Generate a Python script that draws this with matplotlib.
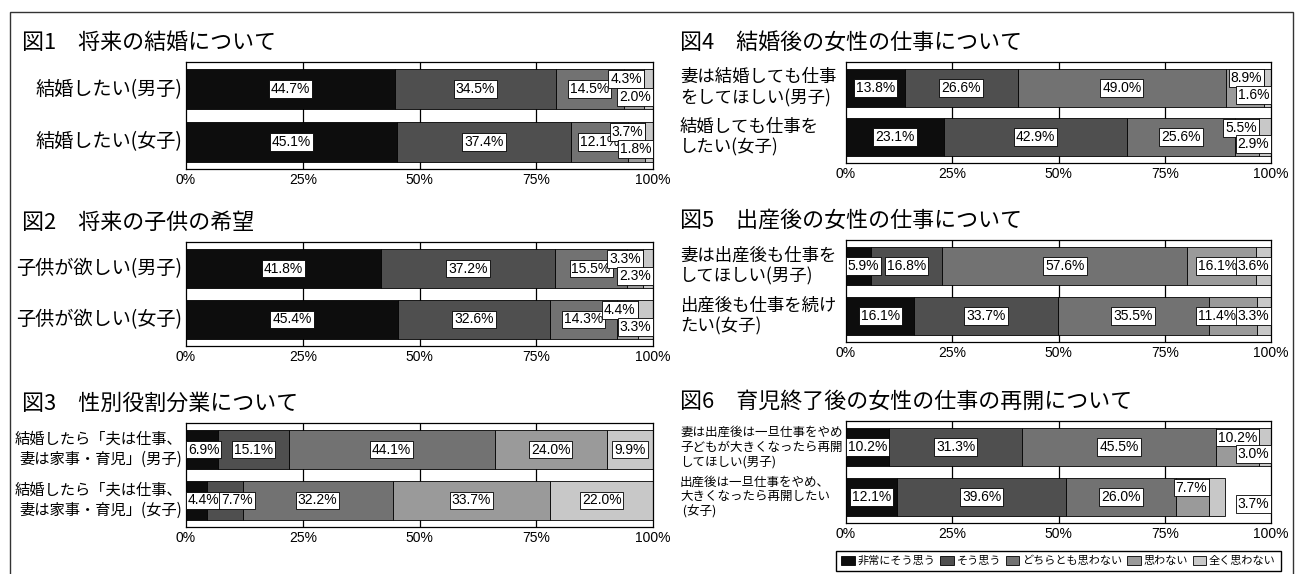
import matplotlib
matplotlib.use('Agg')
import matplotlib.pyplot as plt
from matplotlib.patches import Patch, Rectangle
from matplotlib.transforms import blended_transform_factory

plt.rcParams['font.family'] = ['Noto Sans CJK JP', 'DejaVu Sans']

W, H = 1296, 574

categories = ['非常にそう思う', 'そう思う', 'どちらとも思わない', '思わない', '全く思わない']
colors = ['#0d0d0d', '#4f4f4f', '#727272', '#9a9a9a', '#c8c8c8']
ticks = [0, 25, 50, 75, 100]
tick_labels = ['0%', '25%', '50%', '75%', '100%']

titles = ['図1　将来の結婚について', '図2　将来の子供の希望', '図3　性別役割分業について',
          '図4　結婚後の女性の仕事について', '図5　出産後の女性の仕事について', '図6　育児終了後の女性の仕事の再開について']

labels1 = ['結婚したい(男子)', '結婚したい(女子)']
labels2 = ['子供が欲しい(男子)', '子供が欲しい(女子)']
labels3 = ['結婚したら「夫は仕事、\n妻は家事・育児」(男子)', '結婚したら「夫は仕事、\n妻は家事・育児」(女子)']
labels4 = ['妻は結婚しても仕事\nをしてほしい(男子)', '結婚しても仕事を\nしたい(女子)']
labels5 = ['妻は出産後も仕事を\nしてほしい(男子)', '出産後も仕事を続け\nたい(女子)']
labels6 = ['妻は出産後は一旦仕事をやめ\n子どもが大きくなったら再開\nしてほしい(男子)', '出産後は一旦仕事をやめ、\n大きくなったら再開したい\n (女子)']

values1 = [[44.7, 34.5, 14.5, 4.3, 2.0], [45.1, 37.4, 12.1, 3.7, 1.8]]
values2 = [[41.8, 37.2, 15.5, 3.3, 2.3], [45.4, 32.6, 14.3, 4.4, 3.3]]
values3 = [[6.9, 15.1, 44.1, 24.0, 9.9], [4.4, 7.7, 32.2, 33.7, 22.0]]
values4 = [[13.8, 26.6, 49.0, 8.9, 1.6], [23.1, 42.9, 25.6, 5.5, 2.9]]
values5 = [[5.9, 16.8, 57.6, 16.1, 3.6], [16.1, 33.7, 35.5, 11.4, 3.3]]
values6 = [[10.2, 31.3, 45.5, 10.2, 3.0], [12.1, 39.6, 26.0, 7.7, 3.7]]

# panel layout in pixels: (x0, y0, x1, y1), label side, label size, value label style
panels = [
    (titles[0], labels1, values1, (186, 62, 653, 169), 'left', 13.8, 'stack'),
    (titles[1], labels2, values2, (186, 242, 653, 346), 'left', 13.8, 'stack'),
    (titles[2], labels3, values3, (186, 423, 653, 527), 'left', 11.0, 'inline'),
    (titles[3], labels4, values4, (846, 62, 1271, 163), 'right', 12.5, 'stack'),
    (titles[4], labels5, values5, (846, 240, 1271, 342), 'right', 12.5, 'inline'),
    (titles[5], labels6, values6, (846, 421, 1271, 523), 'right', 9.0, 'stack'),
]

fig = plt.figure(figsize=(W / 100, H / 100), dpi=100)
fig.patches.append(Rectangle((10 / W, -0.05), 1283 / W, 1.05 - 12 / H, transform=fig.transFigure,
                             fill=False, edgecolor='#333333', linewidth=1.0))

NUM_FONT = ['Liberation Sans Narrow', 'Liberation Sans', 'DejaVu Sans']
bbox_kw = dict(boxstyle='square,pad=0.14', facecolor='white', edgecolor='black', linewidth=0.6)


def half_width(s, axw):
    return (6.6 * len(s) + 5) / 2 / axw * 100


for title, ylabels, vals, (x0, y0, x1, y1), side, lsize, mode in panels:
    ax = fig.add_axes([x0 / W, 1 - y1 / H, (x1 - x0) / W, (y1 - y0) / H])
    axw = x1 - x0
    for r, row in enumerate(vals):
        left = 0
        for k, v in enumerate(row):
            ax.barh(r, v, left=left, height=0.76, color=colors[k], edgecolor='black', linewidth=0.6, zorder=2)
            left += v
        # value labels
        cum = [sum(row[:k]) for k in range(len(row) + 1)]
        texts = [f'{v:.1f}%' for v in row]
        hw = [half_width(t, axw) for t in texts]
        if mode == 'stack':
            xs = [(cum[k] + cum[k + 1]) / 2 for k in range(3)]
            for k in range(3):
                ax.text(xs[k], r, texts[k], ha='center', va='center', fontsize=10, family=NUM_FONT, bbox=bbox_kw, zorder=4)
            ax.text(cum[4] - 0.4, r - 0.19, texts[3], ha='right', va='center', fontsize=10, family=NUM_FONT, bbox=bbox_kw, zorder=4)
            ax.text(99.6, r + 0.14, texts[4], ha='right', va='center', fontsize=10, family=NUM_FONT, bbox=bbox_kw, zorder=4)
        else:
            xs = []
            prev = 0
            for k in range(5):
                x = max((cum[k] + cum[k + 1]) / 2, prev + 0.4 + hw[k])
                xs.append(x)
                prev = x + hw[k]
            if xs[4] + hw[4] > 99.6:
                xs[4] = 99.6 - hw[4]
                for k in range(3, -1, -1):
                    xs[k] = min(xs[k], xs[k + 1] - hw[k + 1] - 0.4 - hw[k])
            for k in range(5):
                ax.text(xs[k], r, texts[k], ha='center', va='center', fontsize=10, family=NUM_FONT, bbox=bbox_kw, zorder=4)
    ax.set_xlim(0, 100)
    ax.set_ylim(1.52, -0.52)
    ax.set_yticks([])
    ax.set_xticks(ticks)
    ax.set_xticklabels(tick_labels, fontsize=10, family=NUM_FONT)
    ax.tick_params(axis='x', length=0, pad=3)
    for t in ticks[1:-1]:
        ax.axvline(t, color='black', linewidth=0.9, zorder=1)
    for s in ax.spines.values():
        s.set_linewidth(0.9)
    # row labels
    tr = blended_transform_factory(fig.transFigure, ax.transData)
    if side == 'left':
        for r, lab in enumerate(ylabels):
            ax.text(182 / W, r, lab, transform=tr, ha='right', va='center', fontsize=lsize, linespacing=1.2)
        tx = 22
    else:
        for r, lab in enumerate(ylabels):
            ax.text(680 / W, r, lab, transform=tr, ha='left', va='center', fontsize=lsize, linespacing=1.2)
        tx = 680
    fig.text(tx / W, 1 - (y0 - 19) / H, title, ha='left', va='center', fontsize=15.8)

handles = [Patch(facecolor=c, edgecolor='black', linewidth=0.6) for c in colors]
fig.legend(handles, categories, loc='center', bbox_to_anchor=(1058.5 / W, 1 - 561 / H), ncol=5,
           fontsize=8.0, frameon=True, fancybox=False, edgecolor='black', handlelength=1.2, handleheight=0.9,
           handletextpad=0.25, columnspacing=0.45, borderpad=0.45, borderaxespad=0, framealpha=1)

fig.savefig('out.png', dpi=100)
